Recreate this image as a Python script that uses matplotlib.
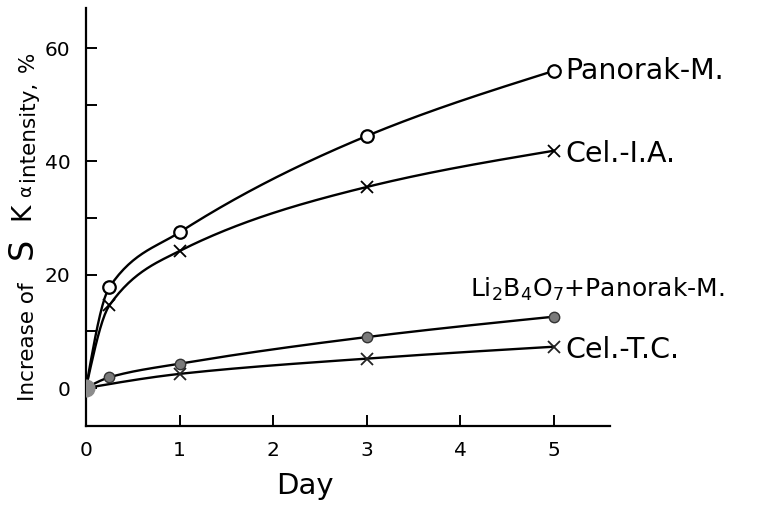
import numpy as np
import matplotlib
matplotlib.use("Agg")
import matplotlib.pyplot as plt

days_pan = [0, 0.25, 1, 3, 5]
pan_m = [0, 17.8, 27.5, 44.5, 56.0]
days_ia = [0, 0.25, 1, 3, 5]
cel_ia = [0, 14.6, 24.2, 35.5, 41.9]
days_li = [0, 0.25, 1, 3, 5]
li_pan = [0, 1.9, 4.3, 9.0, 12.6]
days_tc = [0, 1, 3, 5]
cel_tc = [0, 2.5, 5.2, 7.3]

x_ticks = [0, 1, 2, 3, 4, 5]
y_ticks = [0, 20, 40, 60]
labels = ["Panorak-M.", "Cel.-I.A.", r"Li$_2$B$_4$O$_7$+Panorak-M.", "Cel.-T.C."]

plt.rcParams['font.family'] = ['DejaVu Sans']
plt.rcParams['mathtext.default'] = 'regular'


def pchip(x, y, n=200):
    x = np.asarray(x, float); y = np.asarray(y, float)
    h = np.diff(x); d = np.diff(y) / h
    m = np.zeros_like(y)
    for k in range(1, len(x) - 1):
        if d[k-1] * d[k] > 0:
            w1 = 2 * h[k] + h[k-1]; w2 = h[k] + 2 * h[k-1]
            m[k] = (w1 + w2) / (w1 / d[k-1] + w2 / d[k])
    m[0] = d[0] * 1.5 - m[1] * 0.5 if len(x) > 2 else d[0]
    if m[0] * d[0] <= 0:
        m[0] = 0
    m[-1] = d[-1] * 1.5 - m[-2] * 0.5 if len(x) > 2 else d[-1]
    if m[-1] * d[-1] <= 0:
        m[-1] = 0
    xs = np.linspace(x[0], x[-1], n)
    idx = np.clip(np.searchsorted(x, xs) - 1, 0, len(x) - 2)
    t = (xs - x[idx]) / h[idx]
    h00 = 2*t**3 - 3*t**2 + 1; h10 = t**3 - 2*t**2 + t
    h01 = -2*t**3 + 3*t**2; h11 = t**3 - t**2
    ys = h00*y[idx] + h10*h[idx]*m[idx] + h01*y[idx+1] + h11*h[idx]*m[idx+1]
    return xs, ys


W, H = 762, 505
fig = plt.figure(figsize=(W/100, H/100), dpi=100)
ax = fig.add_axes([86/W, 1-426/H, (610-86)/W, (426-8)/H])

lw = 1.7
for xd, yd in [(days_pan, pan_m), (days_ia, cel_ia), (days_li, li_pan), (days_tc, cel_tc)]:
    xs, ys = pchip(xd, yd)
    ax.plot(xs, ys, color='black', lw=lw, zorder=2)

ax.plot(days_pan[1:], pan_m[1:], 'o', ms=9, mfc='white', mec='black', mew=1.6, zorder=3)
ax.plot(days_ia[1:], cel_ia[1:], 'x', ms=8, mec='black', mew=1.3, zorder=3)
ax.plot(days_li[1:], li_pan[1:], 'o', ms=7.5, mfc='#7a7a7a', mec='#333333', mew=1.0, zorder=3)
ax.plot(days_tc[1:], cel_tc[1:], 'x', ms=8, mec='#222222', mew=1.3, zorder=3)
ax.plot([days_pan[0]], [pan_m[0]], 'o', ms=12, mfc='#8c8c8c', mec='#8c8c8c', zorder=4)

ax.set_xlim(0, 5.6)
ax.set_ylim(-6.7, 67.1)
ax.spines['top'].set_visible(False)
ax.spines['right'].set_visible(False)
ax.spines['left'].set_linewidth(1.6)
ax.spines['bottom'].set_linewidth(1.6)
ax.set_xticks(x_ticks)
ax.set_xticklabels([str(v) for v in x_ticks], fontsize=14.5)
ax.set_yticks(y_ticks)
ax.set_yticklabels([str(v) for v in y_ticks], fontsize=14.5)
ax.set_yticks([10, 30, 50], minor=True)
ax.tick_params(axis='both', which='both', direction='in', length=8, width=1.4)
ax.tick_params(axis='x', pad=11)
ax.tick_params(axis='y', pad=11)
ax.set_xlabel("Day", fontsize=21, va='top')
ax.xaxis.set_label_coords((305-86)/(610-86), -(472-426)/(426-8))

fs_lab = 20.5
ax.text(5.12, pan_m[-1], labels[0], fontsize=fs_lab, va='center', ha='left')
ax.text(5.12, cel_ia[-1] - 0.5, labels[1], fontsize=fs_lab, va='center', ha='left')
ax.text(4.1, li_pan[-1] + 4.8, labels[2], fontsize=18, va='center', ha='left')
ax.text(5.12, cel_tc[-1] - 0.6, labels[3], fontsize=fs_lab, va='center', ha='left')

# y-axis label composed of pieces
def ylab(s, xc, yc, fs):
    fig.text(xc / W, 1 - yc / H, s, rotation=90, fontsize=fs, ha='center', va='center')

ylab("Increase of", 28, 342, 15.5)
ylab("S", 22, 248, 24)
ylab("K", 22, 211, 19)
ylab(r"$\alpha$", 27, 192, 13)
ylab("intensity,", 28, 131, 15.5)
ylab("%", 28, 62, 15.5)

fig.savefig("out.png", dpi=100)
